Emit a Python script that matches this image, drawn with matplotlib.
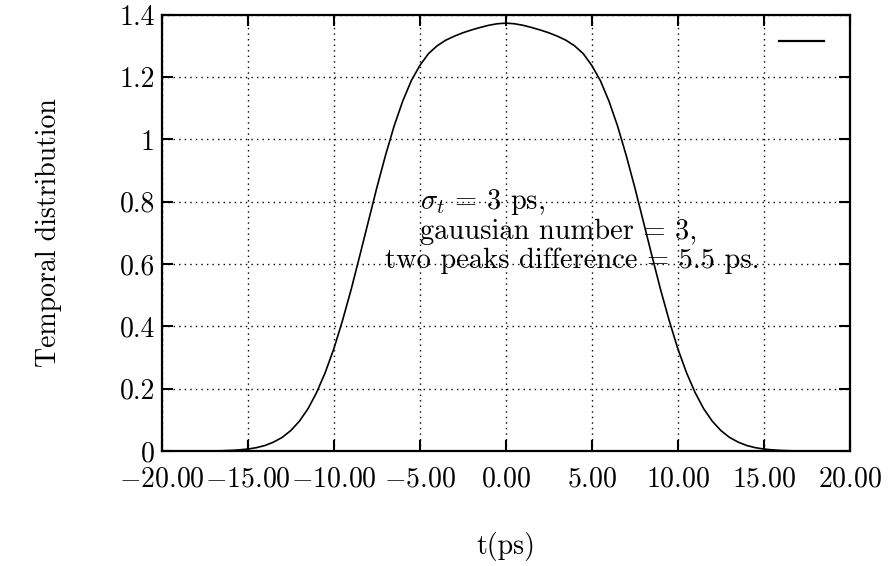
import numpy as np
import matplotlib
matplotlib.use("Agg")
import matplotlib.pyplot as plt
from matplotlib.ticker import FixedLocator, FixedFormatter

plt.rcParams['font.family'] = ['cmr10', 'DejaVu Serif']
plt.rcParams['mathtext.fontset'] = 'cm'
plt.rcParams['axes.unicode_minus'] = False

# values, 0.5 ps steps from 0 to 20 (curve is symmetric)
t_half = [0.0, 0.5, 1.0, 1.5, 2.0, 2.5, 3.0, 3.5, 4.0, 4.5, 5.0, 5.5, 6.0, 6.5,
          7.0, 7.5, 8.0, 8.5, 9.0, 9.5, 10.0, 10.5, 11.0, 11.5, 12.0, 12.5, 13.0,
          13.5, 14.0, 14.5, 15.0, 15.5, 16.0, 16.5, 17.0, 17.5, 18.0, 18.5, 19.0,
          19.5, 20.0]
f_half = [1.373, 1.371, 1.366, 1.359, 1.351, 1.342, 1.331, 1.318, 1.300, 1.275,
          1.237, 1.188, 1.122, 1.042, 0.948, 0.845, 0.735, 0.625, 0.517, 0.418,
          0.328, 0.252, 0.188, 0.136, 0.096, 0.066, 0.044, 0.029, 0.018, 0.011,
          0.0066, 0.0039, 0.0022, 0.0012, 0.0006, 0.0003, 0.0002, 0.0001, 0.0,
          0.0, 0.0]

t = np.concatenate([-np.array(t_half[:0:-1]), np.array(t_half)])
f = np.concatenate([np.array(f_half[:0:-1]), np.array(f_half)])

xticks = [-20, -15, -10, -5, 0, 5, 10, 15, 20]
xlabels = ['$-20.00$', '$-15.00$', '$-10.00$', '$-5.00$', '$0.00$',
           '$5.00$', '$10.00$', '$15.00$', '$20.00$']
yticks = [0, 0.2, 0.4, 0.6, 0.8, 1.0, 1.2, 1.4]
ylabels = ['0', '0.2', '0.4', '0.6', '0.8', '1', '1.2', '1.4']

fig = plt.figure(figsize=(8.89, 5.66), dpi=100)
ax = fig.add_axes([0.182, 0.203, 0.774, 0.771])

ax.plot(t, f, color='black', lw=1.2)
ax.set_xlim(-20, 20)
ax.set_ylim(0, 1.4)

ax.xaxis.set_major_locator(FixedLocator(xticks))
ax.xaxis.set_major_formatter(FixedFormatter(xlabels))
ax.yaxis.set_major_locator(FixedLocator(yticks))
ax.yaxis.set_major_formatter(FixedFormatter(ylabels))
ax.tick_params(direction='in', length=8, width=1.5, top=True, right=True,
               labelsize=20)
ax.tick_params(axis='x', pad=11)
ax.tick_params(axis='y', pad=5)
for s in ax.spines.values():
    s.set_linewidth(1.6)

ax.grid(True, color='black', linestyle=(0, (1, 3)), linewidth=1.0)

ax.set_ylabel('Temporal distribution', fontsize=20)
ax.yaxis.set_label_coords(-0.145, 0.5)
ax.set_xlabel('t(ps)', fontsize=20)
ax.xaxis.set_label_coords(0.5, -0.185)

ax.text(-5.0, 0.80, r'$\sigma_t$ = 3 ps,', fontsize=20.5, va='center', ha='left')
ax.text(-5.0, 0.703, 'gauusian number = 3,', fontsize=20.5, va='center', ha='left')
ax.text(-7.03, 0.612, 'two peaks difference = 5.5 ps.', fontsize=20.5,
        va='center', ha='left')

# legend sample line without text, top-right like the original
ax.plot([15.9, 18.5], [1.315, 1.315], color='black', lw=1.6)

fig.savefig('out.png', dpi=100)
